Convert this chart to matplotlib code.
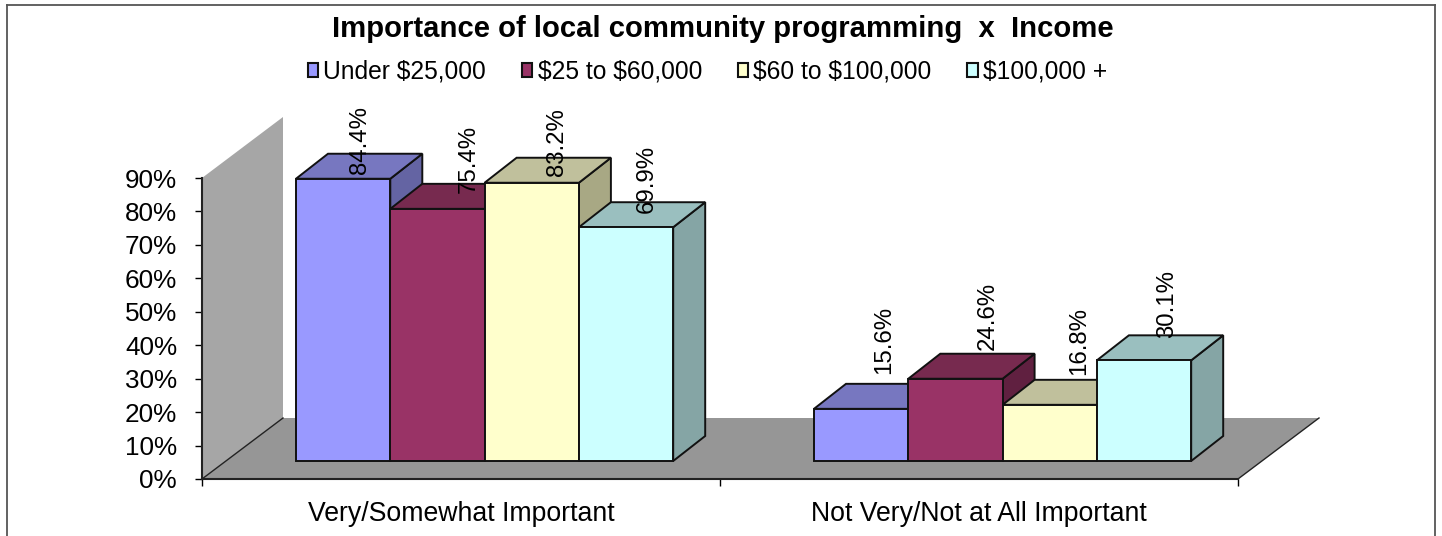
import matplotlib
matplotlib.use('Agg')
import matplotlib.pyplot as plt
from matplotlib.patches import Patch, Polygon
from matplotlib.lines import Line2D

plt.rcParams['font.family'] = ['Liberation Sans', 'DejaVu Sans']
plt.rcParams['text.parse_math'] = False

categories = ['Very/Somewhat Important', 'Not Very/Not at All Important']
series_names = ['Under $25,000', '$25 to $60,000', '$60 to $100,000', '$100,000 +']
under_25 = [84.4, 15.6]
from_25_to_60 = [75.4, 24.6]
from_60_to_100 = [83.2, 16.8]
over_100 = [69.9, 30.1]
series_values = [under_25, from_25_to_60, from_60_to_100, over_100]
y_ticks = [0, 10, 20, 30, 40, 50, 60, 70, 80, 90]

# colours: front, top, side
front_colors = ['#9999FF', '#993366', '#FFFFCC', '#CCFFFF']
top_colors = ['#7777C0', '#772A4F', '#C0C09C', '#9ABFBF']
side_colors = ['#6464A3', '#602040', '#A8A884', '#85A5A5']

W, H = 1442, 536
PX_PER_PCT = (479 - 178) / 90
BAR_W = 94.3
DEPTH_X = 32
DEPTH_Y = 25 / PX_PER_PCT
BASE = 18 / PX_PER_PCT
WALL_X = 81
WALL_Y = 61 / PX_PER_PCT

group_left = [296, 814]
cat_centers = [461, 979]
# label nudges in px, the original labels are placed a bit unevenly
label_dx = [[17, 23], [31, 32], [25, 29], [21, 23]]
label_dy = [[5, 35], [16, 29], [7, 30], [14, 22]]

fig = plt.figure(figsize=(W / 100, H / 100), dpi=100)
ax = fig.add_axes([202 / W, (H - 479) / H, (1238 - 202) / W, (479 - 178) / H])
ax.set_xlim(202, 1238)
ax.set_ylim(0, 90)
ax.patch.set_visible(False)

# back wall and floor
ax.add_patch(Polygon([(202, 0), (202, 90), (202 + WALL_X, 90 + WALL_Y), (202 + WALL_X, WALL_Y)],
                     fc='#A6A6A6', ec='none', clip_on=False, zorder=1))
ax.add_patch(Polygon([(202, 0), (1238, 0), (1238 + WALL_X, WALL_Y), (202 + WALL_X, WALL_Y)],
                     fc='#969696', ec='none', clip_on=False, zorder=1))
ax.plot([202, 202 + WALL_X], [0, WALL_Y], color='#222222', lw=1, clip_on=False, zorder=1.5)
ax.plot([1238, 1238 + WALL_X], [0, WALL_Y], color='#222222', lw=1, clip_on=False, zorder=1.5)

lw = 1.4
for g in range(len(categories)):
    for s, vals in enumerate(series_values):
        x0 = group_left[g] + s * BAR_W
        top = BASE + vals[g]
        z = 2 + g * 10 + s
        ax.add_patch(Polygon([(x0 + BAR_W, BASE), (x0 + BAR_W, top),
                              (x0 + BAR_W + DEPTH_X, top + DEPTH_Y), (x0 + BAR_W + DEPTH_X, BASE + DEPTH_Y)],
                             fc=side_colors[s], ec='#111111', lw=lw, clip_on=False, zorder=z))
        ax.add_patch(Polygon([(x0, top), (x0 + BAR_W, top),
                              (x0 + BAR_W + DEPTH_X, top + DEPTH_Y), (x0 + DEPTH_X, top + DEPTH_Y)],
                             fc=top_colors[s], ec='#111111', lw=lw, clip_on=False, zorder=z))
        ax.bar(x0, vals[g], width=BAR_W, bottom=BASE, align='edge', color=front_colors[s],
               edgecolor='#111111', linewidth=lw, clip_on=False, zorder=z + 0.5)
        ax.text(x0 + BAR_W / 2 + label_dx[s][g], top + label_dy[s][g] / PX_PER_PCT, '%.1f%%' % vals[g],
                rotation=90, ha='center', va='bottom', fontsize=17.3, color='black', zorder=50)

for side in ['top', 'right']:
    ax.spines[side].set_visible(False)
for side in ['left', 'bottom']:
    ax.spines[side].set_linewidth(1.5)
    ax.spines[side].set_color('#222222')
    ax.spines[side].set_zorder(1.6)

ax.set_yticks(y_ticks)
ax.set_yticklabels(['%d%%' % t for t in y_ticks], fontsize=18.8)
ax.tick_params(axis='y', length=5, width=1, pad=13)
ax.set_xticks([202, 720, 1238])
ax.set_xticklabels([])
ax.tick_params(axis='x', which='major', length=5, width=1)
ax.set_xticks(cat_centers, minor=True)
ax.set_xticklabels(categories, minor=True, fontsize=19.2)
ax.tick_params(axis='x', which='minor', length=0, pad=16)

fig.text(723 / W, 1 - 29 / H, 'Importance of local community programming  x  Income',
         ha='center', va='center', fontsize=21.1, fontweight='bold')

handles = [Patch(fc=c, ec='#111111', lw=1.5) for c in front_colors]
fig.legend(handles, series_names, ncol=4, loc='center', bbox_to_anchor=(707.5 / W, 1 - 72 / H),
           frameon=False, fontsize=17.7, handlelength=0.42, handleheight=0.5, handletextpad=0.22,
           columnspacing=1.45, borderpad=0, borderaxespad=0)

# chart frame, bottom edge is cut off in the original
for xs, ys in [([7, 7], [0, 1 - 5 / H]), ([1435, 1435], [0, 1 - 5 / H]), ([7, 1435], [1 - 5 / H, 1 - 5 / H])]:
    fig.add_artist(Line2D([x / W for x in xs], ys, color='#555555', lw=1.3))

fig.savefig('out.png', dpi=100)
